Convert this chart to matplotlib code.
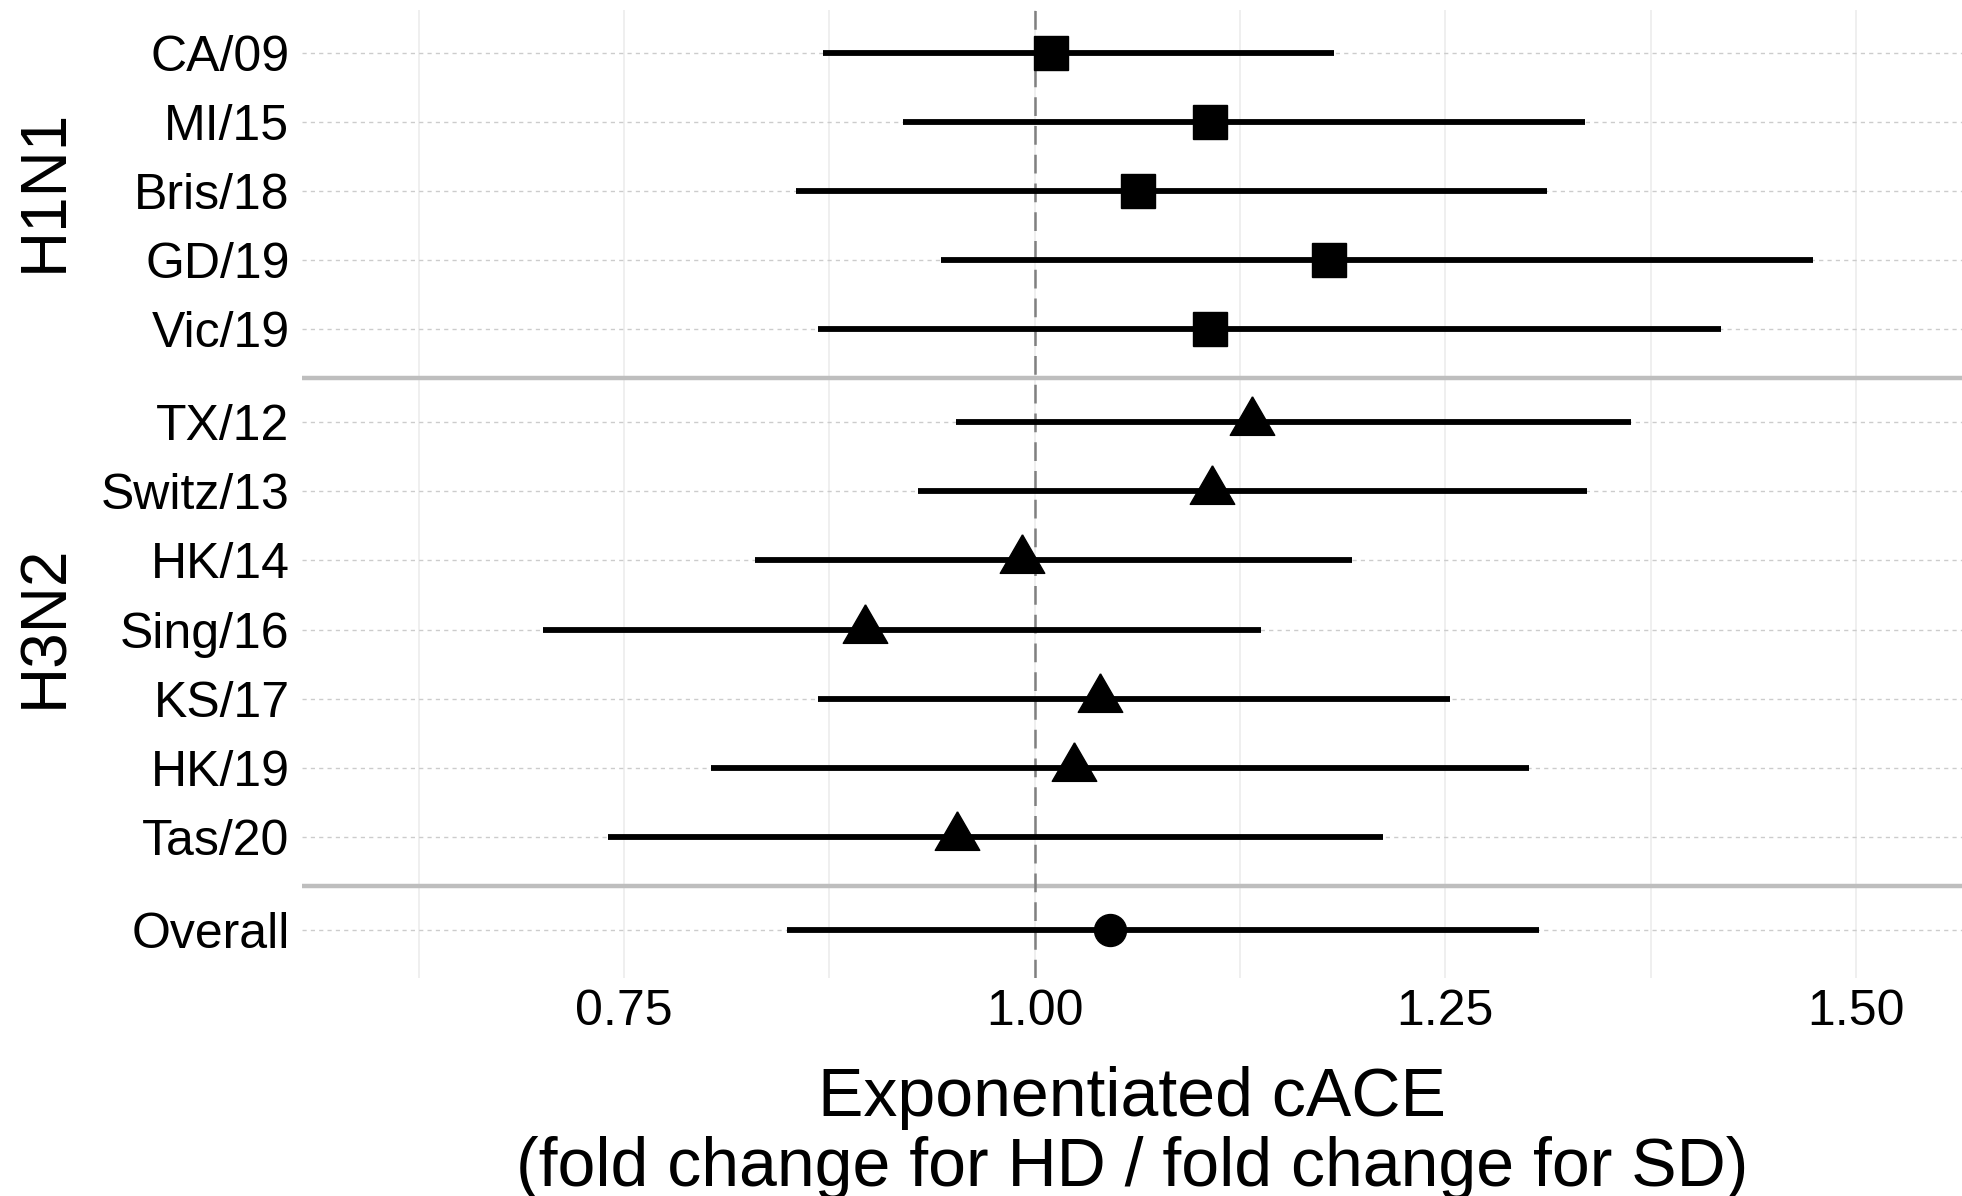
import numpy as np
import matplotlib
matplotlib.use("Agg")
import matplotlib.pyplot as plt
from matplotlib.ticker import FixedLocator

plt.rcParams['font.family'] = ['Liberation Sans', 'DejaVu Sans']

# data
h1n1_strains = ['CA/09', 'MI/15', 'Bris/18', 'GD/19', 'Vic/19']
h1n1_est = [1.010, 1.107, 1.063, 1.179, 1.107]
h1n1_lo = [0.871, 0.920, 0.855, 0.943, 0.868]
h1n1_hi = [1.182, 1.335, 1.312, 1.474, 1.418]

h3n2_strains = ['TX/12', 'Switz/13', 'HK/14', 'Sing/16', 'KS/17', 'HK/19', 'Tas/20']
h3n2_est = [1.132, 1.108, 0.992, 0.897, 1.040, 1.024, 0.953]
h3n2_lo = [0.952, 0.929, 0.830, 0.701, 0.868, 0.803, 0.740]
h3n2_hi = [1.363, 1.336, 1.193, 1.138, 1.253, 1.301, 1.212]

overall_est = [1.046]
overall_lo = [0.849]
overall_hi = [1.307]

x_ticks = [0.75, 1.00, 1.25, 1.50]
x_tick_labels = ['0.75', '1.00', '1.25', '1.50']

# vertical layout: rows one unit apart, extra gap between groups
gap = 1.36
y_h1 = np.arange(len(h1n1_strains), dtype=float)
y_h3 = y_h1[-1] + gap + np.arange(len(h3n2_strains))
y_ov = np.array([y_h3[-1] + gap])
sep1 = (y_h1[-1] + y_h3[0]) / 2 + 0.04
sep2 = (y_h3[-1] + y_ov[0]) / 2 + 0.04

# triangle centred on its centroid, like ggplot's shape 17
tri = [(0, 0.577), (-0.5, -0.289), (0.5, -0.289), (0, 0.577)]

fig = plt.figure(figsize=(19.62, 11.96), dpi=100)
ax = fig.add_axes([302 / 1962, 1 - 978 / 1196, 1 - 302 / 1962, (978 - 10) / 1196])

ax.set_xlim(0.554, 1.5645)
ax.set_ylim(13.41, -0.617)

# grid
ax.xaxis.set_major_locator(FixedLocator(x_ticks))
ax.xaxis.set_minor_locator(FixedLocator([0.625, 0.875, 1.125, 1.375]))
for xv in [0.625, 0.75, 0.875, 1.0, 1.125, 1.25, 1.375, 1.5]:
    ax.axvline(xv, color='#ebebeb', lw=1.1, zorder=0)
all_y = np.concatenate([y_h1, y_h3, y_ov])
for yv in all_y:
    ax.axhline(yv, color='#cccccc', lw=1.0, dashes=(3, 3), zorder=0)
for sv in [sep1, sep2]:
    ax.axhline(sv, color='#bebebe', lw=3.2, zorder=1)
ax.axvline(1.0, color='#808080', lw=1.8, dashes=(7.5, 4), zorder=1)

# intervals and points
ax.hlines(y_h1, h1n1_lo, h1n1_hi, color='black', lw=4.2, zorder=3)
ax.hlines(y_h3, h3n2_lo, h3n2_hi, color='black', lw=4.2, zorder=3)
ax.hlines(y_ov, overall_lo, overall_hi, color='black', lw=4.2, zorder=3)
ax.plot(h1n1_est, y_h1, ls='none', marker='s', ms=24, color='black', zorder=4)
ax.plot(h3n2_est, y_h3, ls='none', marker=tri, ms=37, color='black', zorder=4)
ax.plot(overall_est, y_ov, ls='none', marker='o', ms=23, color='black', zorder=4)

ax.set_yticks(all_y)
ax.set_yticklabels(h1n1_strains + h3n2_strains + ['Overall'])
ax.set_xticks(x_ticks)
ax.set_xticklabels(x_tick_labels)
ax.tick_params(axis='both', which='both', length=0, labelsize=36, colors='black')
ax.tick_params(axis='y', pad=9)
ax.tick_params(axis='x', pad=8)

for s in ax.spines.values():
    s.set_visible(False)

ax.set_xlabel('Exponentiated cACE\n(fold change for HD / fold change for SD)',
              fontsize=49, labelpad=22, linespacing=1.12)

# group labels on the left
fig.text(45 / 1962, 1 - 190 / 1196, 'H1N1', rotation=90, fontsize=46,
         ha='center', va='center')
fig.text(45 / 1962, 1 - 626 / 1196, 'H3N2', rotation=90, fontsize=46,
         ha='center', va='center')

fig.savefig('out.png', dpi=100)
